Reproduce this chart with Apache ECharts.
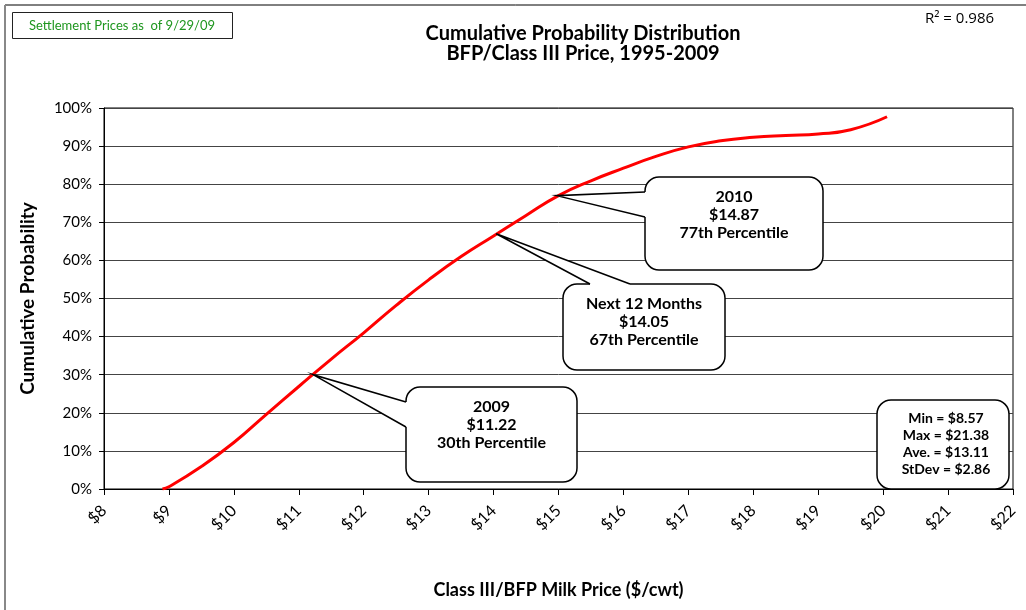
<!DOCTYPE html>
<html><head><meta charset="utf-8">
<script src="https://cdn.jsdelivr.net/npm/echarts@6/dist/echarts.min.js"></script>
<style>html,body{margin:0;padding:0;background:#fff}#c{width:1026px;height:610px}</style>
</head><body><div id="c"></div>
<script>
// Cumulative distribution curve
const prices  = [8.90, 9.00, 9.50, 10.00, 10.50, 11.00, 11.50, 12.00, 12.50, 13.00, 13.50, 14.00, 14.50, 15.00, 15.50, 16.00, 16.50, 17.00, 17.50, 18.00, 18.50, 19.00, 19.50, 20.06];
const cumProb = [0, 0.6, 5.9, 12.2, 19.6, 26.9, 34.1, 41.0, 48.2, 54.9, 61.0, 66.4, 71.8, 77.0, 80.9, 84.2, 87.3, 89.8, 91.4, 92.3, 92.8, 93.2, 94.3, 97.7];

// Callouts
const calloutTitles = ['2009', 'Next 12 Months', '2010'];
const calloutPrices = [11.22, 14.05, 14.87];
const calloutPcts   = [30, 67, 77];
const calloutTipX   = [11.22, 14.04, 14.97];

// Summary stats
const statNames  = ['Min', 'Max', 'Ave.', 'StDev'];
const statValues = [8.57, 21.38, 13.11, 2.86];

const rSquared = 0.986;
const settlementNote = 'Settlement Prices as  of 9/29/09';

const FONT = 'Lato, "Open Sans", sans-serif';
const chart = echarts.init(document.getElementById('c'));

chart.setOption({
  animation: false,
  backgroundColor: '#fff',
  title: {
    text: 'Cumulative Probability Distribution\nBFP/Class III Price, 1995-2009',
    left: 578, top: 19, textAlign: 'center',
    textStyle: { fontFamily: FONT, fontSize: 20, fontWeight: 'bold', color: '#000', lineHeight: 20 }
  },
  grid: { left: 104, right: 13, top: 108, bottom: 121, show: true, borderColor: '#000', borderWidth: 1 },
  xAxis: {
    type: 'value', min: 8, max: 22, interval: 1,
    name: 'Class III/BFP Milk Price ($/cwt)', nameLocation: 'middle', nameGap: 92,
    nameTextStyle: { fontFamily: FONT, fontSize: 18, fontWeight: 'bold', color: '#000' },
    axisLine: { show: true, lineStyle: { color: '#000', width: 1 } },
    axisTick: { show: true, length: 6, lineStyle: { color: '#000' } },
    splitLine: { show: false },
    axisLabel: { rotate: 45, margin: 19, fontFamily: FONT, fontSize: 16, color: '#000', formatter: v => '$' + v }
  },
  yAxis: {
    type: 'value', min: 0, max: 100, interval: 10,
    name: 'Cumulative Probability', nameLocation: 'middle', nameGap: 67, nameRotate: 90,
    nameTextStyle: { fontFamily: FONT, fontSize: 19, fontWeight: 'bold', color: '#000' },
    axisLine: { show: true, lineStyle: { color: '#000', width: 1 } },
    axisTick: { show: true, length: 5, lineStyle: { color: '#000' } },
    splitLine: { show: true, lineStyle: { color: '#444', width: 1 } },
    axisLabel: { margin: 12, fontFamily: FONT, fontSize: 15, color: '#000', formatter: v => v + '%' }
  },
  series: [{
    type: 'line', data: prices.map((p, i) => [p, cumProb[i]]),
    smooth: true, showSymbol: false, symbol: 'none',
    lineStyle: { color: '#ff0000', width: 3 }, z: 3
  }]
});

// Callout geometry (layout): box [x, y, w, h], wedge base side and positions
const calloutBoxes = [[406, 387, 171, 95], [563, 284, 162, 86], [645, 177, 178, 93]];
const wedgeBases = [['left', 402, 427], ['top', 590, 630], ['left', 192, 217]];

const g = [];
// outer frame
g.push({ type: 'line', shape: { x1: 5, y1: 5, x2: 1026, y2: 5 }, style: { stroke: '#000', lineWidth: 1 }, z: 10 });
g.push({ type: 'line', shape: { x1: 5, y1: 5, x2: 5, y2: 610 }, style: { stroke: '#888', lineWidth: 2 }, z: 10 });
// settlement note
g.push({ type: 'rect', shape: { x: 12.5, y: 12.5, width: 220, height: 26 }, style: { fill: '#fff', stroke: '#222', lineWidth: 1 }, z: 10 });
g.push({ type: 'text', style: { text: settlementNote, x: 122, y: 25.5, align: 'center', verticalAlign: 'middle', font: '13px ' + FONT, fill: '#1e961e' }, z: 11 });
// R squared
g.push({ type: 'text', style: { text: 'R\u00B2 = ' + rSquared.toFixed(3), x: 925, y: 19, align: 'left', verticalAlign: 'middle', font: '15px "Open Sans", sans-serif', fill: '#000' }, z: 11 });

calloutTitles.forEach((t, i) => {
  const [bx, by, bw, bh] = calloutBoxes[i];
  const tip = chart.convertToPixel({ gridIndex: 0 }, [calloutTipX[i], calloutPcts[i]]);
  const wb = wedgeBases[i];
  let b1, b2, c1, c2;
  if (wb[0] === 'left') { b1 = [bx, wb[1]]; b2 = [bx, wb[2]]; c1 = [bx + 3, wb[1]]; c2 = [bx + 3, wb[2]]; }
  else { b1 = [wb[1], by]; b2 = [wb[2], by]; c1 = [wb[1], by + 3]; c2 = [wb[2], by + 3]; }
  g.push({ type: 'rect', shape: { x: bx, y: by, width: bw, height: bh, r: 14 }, style: { fill: '#fff', stroke: '#000', lineWidth: 1.5 }, z: 20 });
  g.push({ type: 'polygon', shape: { points: [tip, b1, c1, c2, b2] }, style: { fill: '#fff', stroke: null }, z: 21 });
  g.push({ type: 'polyline', shape: { points: [b1, tip, b2] }, style: { stroke: '#000', lineWidth: 1.5, fill: null }, z: 22 });
  const lines = [t, '$' + calloutPrices[i].toFixed(2), calloutPcts[i] + 'th Percentile'];
  g.push({ type: 'text', style: { text: lines.join('\n'), x: bx + bw / 2, y: by + 20 - 9, align: 'center', verticalAlign: 'top', font: 'bold 16px ' + FONT, lineHeight: 18, fill: '#000' }, z: 23 });
});

// stats box
g.push({ type: 'rect', shape: { x: 877, y: 400, width: 132, height: 89, r: 14 }, style: { fill: '#fff', stroke: '#000', lineWidth: 1.5 }, z: 20 });
g.push({ type: 'text', style: {
  text: statNames.map((n, i) => n + ' = $' + statValues[i].toFixed(2)).join('\n'),
  x: 946, y: 418 - 8.5, align: 'center', verticalAlign: 'top', font: 'bold 14px ' + FONT, lineHeight: 17, fill: '#000' }, z: 23 });

chart.setOption({ graphic: g });
</script>
</body></html>
